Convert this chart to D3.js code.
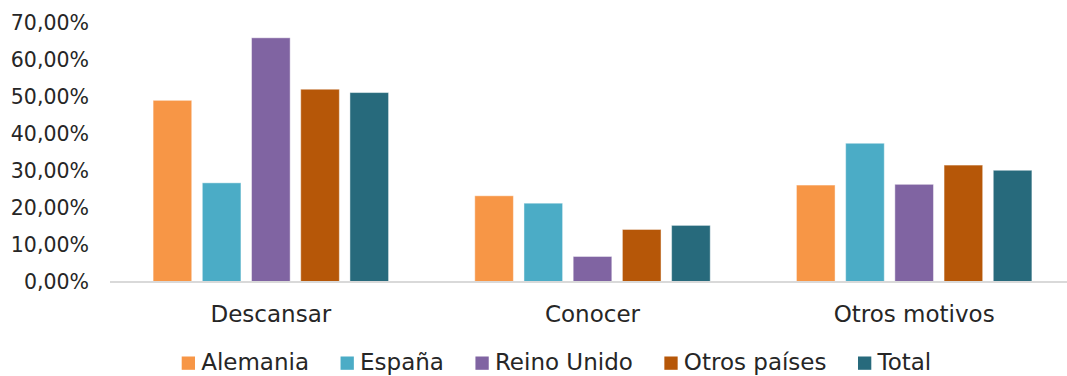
<!DOCTYPE html>
<html>
<head>
<meta charset="utf-8">
<script src="https://cdn.jsdelivr.net/npm/d3@7"></script>
<style>
  html, body { margin: 0; padding: 0; background: #fff; }
  svg { display: block; }
  text { font-family: "DejaVu Sans", sans-serif; fill: #262626; }
</style>
</head>
<body>
<svg id="chart" width="1067" height="376"></svg>
<script>
const categories = ["Descansar", "Conocer", "Otros motivos"];
const seriesNames = ["Alemania", "España", "Reino Unido", "Otros países", "Total"];
const alemania   = [0.491, 0.233, 0.262];
const espana     = [0.268, 0.213, 0.375];
const reinoUnido = [0.660, 0.069, 0.264];
const otrosPaises= [0.521, 0.142, 0.316];
const total      = [0.512, 0.153, 0.302];
const yTicks = [0, 0.1, 0.2, 0.3, 0.4, 0.5, 0.6, 0.7];
const colors = ["#F79646", "#4BACC6", "#8064A2", "#B65708", "#276A7C"];

const seriesValues = [alemania, espana, reinoUnido, otrosPaises, total];

const svg = d3.select("#chart");
const W = 1067;
const plotTop = 23, plotBottom = 282, plotLeft = 110, plotRight = 1075;

const y = d3.scaleLinear().domain([0, 0.7]).range([plotBottom, plotTop]);
const x0 = d3.scaleBand().domain(categories).range([plotLeft, plotRight]).padding(0);
const bw = x0.bandwidth();
const x1 = d3.scaleBand().domain(seriesNames)
  .range([bw * 0.134, bw * 0.866]).paddingInner(0.215).paddingOuter(0);

const fmt = v => d3.format(".2f")(v * 100).replace(".", ",") + "%";

// Y axis labels (no line, no ticks)
const yAxis = d3.axisLeft(y).tickValues(yTicks).tickFormat(fmt).tickSize(0).tickPadding(0);
const yg = svg.append("g").attr("transform", "translate(89,0)").call(yAxis);
yg.select(".domain").remove();
yg.selectAll("text").style("font-size", "20.5px").style("font-family", "DejaVu Sans").attr("fill", "#262626");

// Bars
const groups = svg.append("g").selectAll("g")
  .data(categories)
  .join("g")
  .attr("transform", d => `translate(${x0(d)},0)`);

groups.selectAll("rect")
  .data((c, ci) => seriesNames.map((s, si) => ({ s, si, v: seriesValues[si][ci] })))
  .join("rect")
  .attr("x", d => x1(d.s))
  .attr("y", d => y(d.v))
  .attr("width", x1.bandwidth())
  .attr("height", d => y(0) - y(d.v))
  .attr("fill", d => colors[d.si])
  .attr("stroke", "rgba(255,255,255,0.45)")
  .attr("stroke-width", 1);

// X axis line and labels
const xAxis = d3.axisBottom(x0).tickSize(0).tickPadding(0);
const xg = svg.append("g").attr("transform", `translate(0,${plotBottom})`).call(xAxis);
xg.select(".domain").attr("stroke", "#D9D9D9").attr("stroke-width", 2)
  .attr("d", `M${plotLeft},0H${W}`);
xg.selectAll("text").attr("dy", null).attr("y", 40)
  .style("font-size", "23px").style("font-family", "DejaVu Sans").attr("fill", "#262626");

// Legend
const legend = svg.append("g");
let lx = 181.7;
seriesNames.forEach((s, i) => {
  const g = legend.append("g");
  g.append("rect").attr("x", lx).attr("y", 356.5).attr("width", 13.3).attr("height", 13.3)
    .attr("fill", colors[i]);
  const t = g.append("text").attr("x", lx + 19.5).attr("y", 370)
    .style("font-size", "23px").text(s);
  const w = t.node().getComputedTextLength();
  lx = lx + 19.5 + w + 31.5;
});
</script>
</body>
</html>
